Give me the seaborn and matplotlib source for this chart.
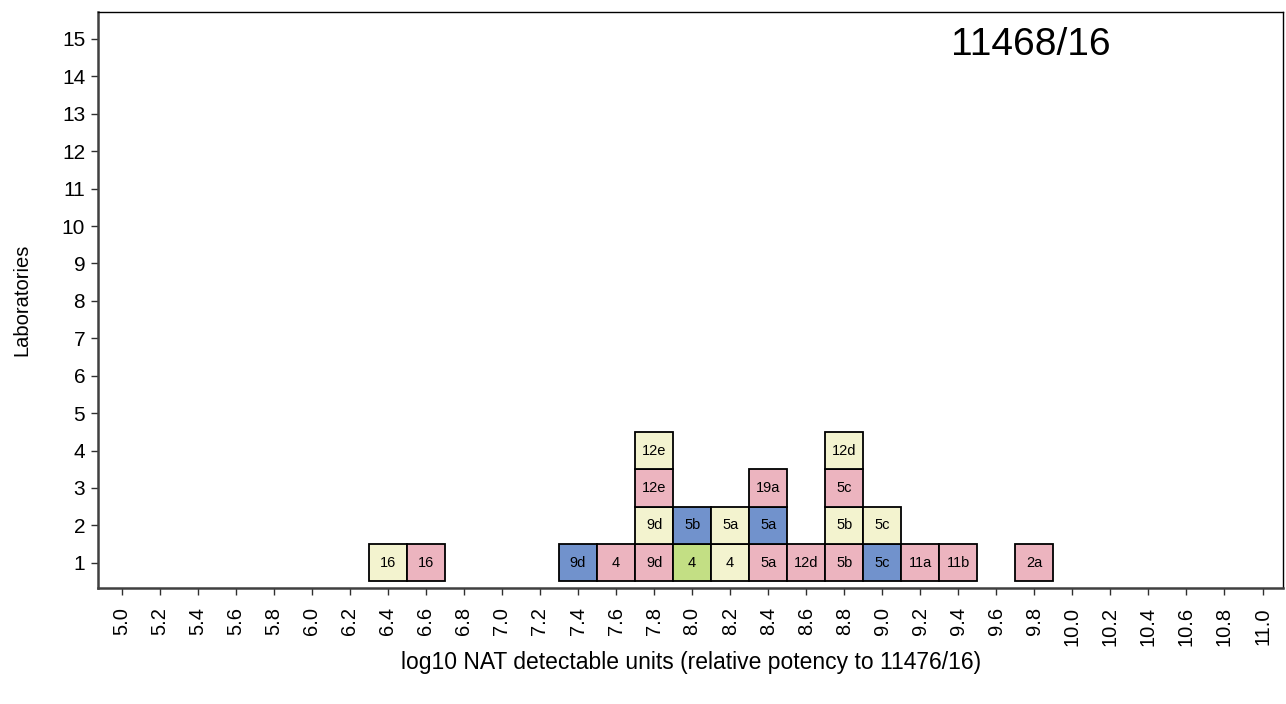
import numpy as np
import pandas as pd
import seaborn as sns
import matplotlib.pyplot as plt

# Data: one box per lab result, stacked at its log10 potency bin
positions = [6.4, 6.6, 7.4, 7.6, 7.8, 7.8, 7.8, 7.8, 8.0, 8.0, 8.2, 8.2,
             8.4, 8.4, 8.4, 8.6, 8.8, 8.8, 8.8, 8.8, 9.0, 9.0, 9.2, 9.4, 9.8]
labels = ["16", "16", "9d", "4", "9d", "9d", "12e", "12e", "4", "5b", "4", "5a",
          "5a", "5a", "19a", "12d", "5b", "5b", "5c", "12d", "5c", "5c", "11a", "11b", "2a"]
groups = ["yellow", "pink", "blue", "pink", "pink", "yellow", "pink", "yellow", "green", "blue",
          "yellow", "yellow", "pink", "blue", "pink", "pink", "pink", "yellow", "pink", "yellow",
          "blue", "yellow", "pink", "pink", "pink"]

palette = {"pink": "#ecb4bf", "yellow": "#f3f3cf", "blue": "#7192cc", "green": "#c3df84"}

df = pd.DataFrame({"x": positions, "label": labels, "group": groups})
df["level"] = df.groupby("x").cumcount() + 1

sns.set_style("white")
plt.rcParams["font.family"] = ["Liberation Sans", "DejaVu Sans"]
plt.rcParams.update({"text.color": "black", "axes.labelcolor": "black",
                     "xtick.color": "#303030", "ytick.color": "#303030",
                     "xtick.labelcolor": "black", "ytick.labelcolor": "black"})

fig, ax = plt.subplots(figsize=(12.86, 7.04), dpi=100)
fig.subplots_adjust(left=0.076, right=0.998, top=0.983, bottom=0.165)

ax.bar(df["x"], 1.0, width=0.2, bottom=df["level"] - 0.5,
       color=df["group"].map(palette), edgecolor="black", linewidth=1.3, zorder=3)
for _, r in df.iterrows():
    ax.text(r["x"], r["level"], r["label"], ha="center", va="center", fontsize=10.5, zorder=4)

ax.set_xlim(4.874, 11.11)
ax.set_ylim(0.33, 15.72)
xt = np.round(np.arange(5.0, 11.01, 0.2), 1)
ax.set_xticks(xt)
ax.set_xticklabels([f"{v:.1f}" for v in xt], rotation=90, fontsize=14.5)
ax.set_yticks(range(1, 16))
ax.tick_params(axis="y", labelsize=15, direction="out", length=5, width=1, left=True, pad=4)
ax.tick_params(axis="x", direction="out", length=5, width=1, bottom=True, pad=9)

for s in ["top", "right"]:
    ax.spines[s].set_color("black")
    ax.spines[s].set_linewidth(1)
for s in ["left", "bottom"]:
    ax.spines[s].set_color("#404040")
    ax.spines[s].set_linewidth(1.8)

ax.set_xlabel("log10 NAT detectable units (relative potency to 11476/16)", fontsize=16.5, labelpad=3)
ax.set_ylabel("Laboratories", fontsize=14.5, labelpad=22)
ax.text(0.787, 0.943, "11468/16", transform=ax.transAxes, ha="center", va="center", fontsize=28)

fig.savefig("out.png", dpi=100)
